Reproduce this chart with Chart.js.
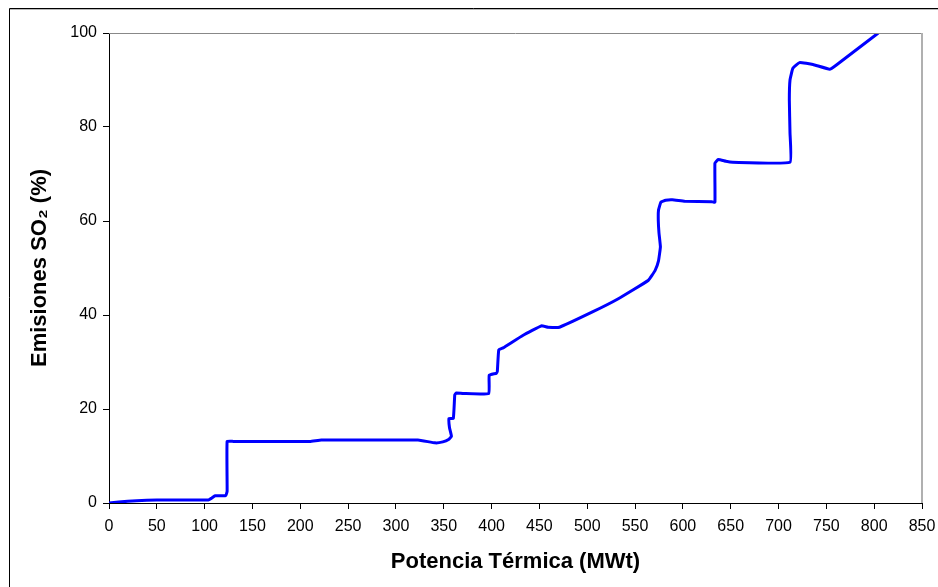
<!DOCTYPE html>
<html>
<head>
<meta charset="utf-8">
<script src="https://cdn.jsdelivr.net/npm/chart.js@4"></script>
<style>
  body { margin: 0; background: #fff; }
  #wrap { position: relative; width: 938px; height: 587px; }
</style>
</head>
<body>
<div id="wrap"><canvas id="chSO2" width="938" height="587"></canvas></div>
<script>
// potencia termica (MWt) / emisiones SO2 (%)
var potencia = [0, 10, 29, 50, 104, 107, 111, 122, 123.5, 123.5, 130, 210, 222, 323, 341, 349, 355, 358, 356, 355.5,
  360, 361.5, 363, 370, 397, 397.5, 405, 406, 407.5, 412, 433, 452, 459, 471, 506, 532, 564, 571, 574.5, 576.5,
  575, 574.3, 574.5, 577, 582, 589, 602, 630, 633.5, 633.5, 637, 645, 652, 712, 712, 711.3, 712, 715, 722, 736,
  753.5, 760.5, 804.3];
var emisiones = [0, 0.2, 0.5, 0.65, 0.65, 1.0, 1.55, 1.55, 2.5, 13.1, 13.1, 13.1, 13.4, 13.4, 12.8, 13.0, 13.5, 14.2, 16, 18.0,
  18.0, 23.0, 23.4, 23.3, 23.3, 27.2, 27.6, 28, 32.6, 33.0, 35.7, 37.7, 37.4, 37.4, 40.7, 43.4, 47.4, 49.5, 51.5, 54.5,
  57.5, 60, 62.3, 64, 64.4, 64.5, 64.2, 64.1, 64.0, 72.3, 73.1, 72.7, 72.5, 72.5, 78.7, 85.7, 90, 92.5, 93.7, 93.3,
  92.3, 93.2, 100];
var yTicks = [0, 20, 40, 60, 80, 100];
var xTicks = [0, 50, 100, 150, 200, 250, 300, 350, 400, 450, 500, 550, 600, 650, 700, 750, 800, 850];

var points = potencia.map(function (p, i) { return { x: p, y: emisiones[i] }; });

// outer frame + grey top/right edge of the plot
var framePlugin = {
  id: "frame",
  afterDraw: function (chart) {
    var ctx = chart.ctx, a = chart.chartArea;
    ctx.save();
    ctx.lineWidth = 1;
    ctx.strokeStyle = "#000";
    ctx.beginPath();
    ctx.moveTo(9.5, 587); ctx.lineTo(9.5, 8.5); ctx.lineTo(938, 8.5);
    ctx.stroke();
    ctx.strokeStyle = "#b8b8b8";
    ctx.beginPath();
    ctx.moveTo(10, 9.5); ctx.lineTo(938, 9.5);
    ctx.stroke();
    ctx.strokeStyle = "#888";
    ctx.beginPath();
    ctx.moveTo(a.left, a.top + 0.5); ctx.lineTo(a.right, a.top + 0.5);
    ctx.stroke();
    ctx.strokeStyle = "#b0b0b0";
    ctx.lineWidth = 2;
    ctx.beginPath();
    ctx.moveTo(a.right, a.top); ctx.lineTo(a.right, a.bottom);
    ctx.stroke();
    ctx.restore();
  }
};

var tickFont = { family: "'Liberation Sans', Arial, sans-serif", size: 16 };
var titleFont = { family: "'Liberation Sans', Arial, sans-serif", size: 22, weight: "bold" };

new Chart(document.getElementById("chSO2"), {
  type: "line",
  data: {
    datasets: [{
      data: points,
      borderColor: "#0000ff",
      borderWidth: 3,
      pointRadius: 0,
      tension: 0.1,
      fill: false
    }]
  },
  options: {
    responsive: false,
    animation: false,
    layout: { padding: { top: 33, right: 16, left: 0, bottom: 0 } },
    plugins: { legend: { display: false }, tooltip: { enabled: false } },
    scales: {
      x: {
        type: "linear",
        min: 0, max: 850,
        afterBuildTicks: function (s) { s.ticks = xTicks.map(function (v) { return { value: v }; }); },
        afterFit: function (s) { s.height = 84; s.paddingLeft = 0; s.paddingRight = 0; },
        grid: { drawOnChartArea: false, tickLength: 6, color: "#000", tickColor: "#000" },
        border: { color: "#000", width: 1 },
        ticks: { font: tickFont, color: "#000", padding: 8, maxRotation: 0, autoSkip: false },
        title: { display: true, text: "Potencia Térmica (MWt)", font: titleFont, color: "#000", padding: { top: 0, bottom: 12 } }
      },
      y: {
        min: 0, max: 100,
        afterBuildTicks: function (s) { s.ticks = yTicks.map(function (v) { return { value: v }; }); },
        afterFit: function (s) { s.width = 109; s.paddingTop = 0; s.paddingBottom = 0; },
        grid: { drawOnChartArea: false, tickLength: 6, color: "#000", tickColor: "#000" },
        border: { color: "#000", width: 1 },
        ticks: { font: tickFont, color: "#000", padding: 6 },
        title: { display: true, text: "Emisiones SO₂ (%)", font: titleFont, color: "#000", padding: { top: 27, bottom: 0 } }
      }
    }
  },
  plugins: [framePlugin]
});
</script>
</body>
</html>
